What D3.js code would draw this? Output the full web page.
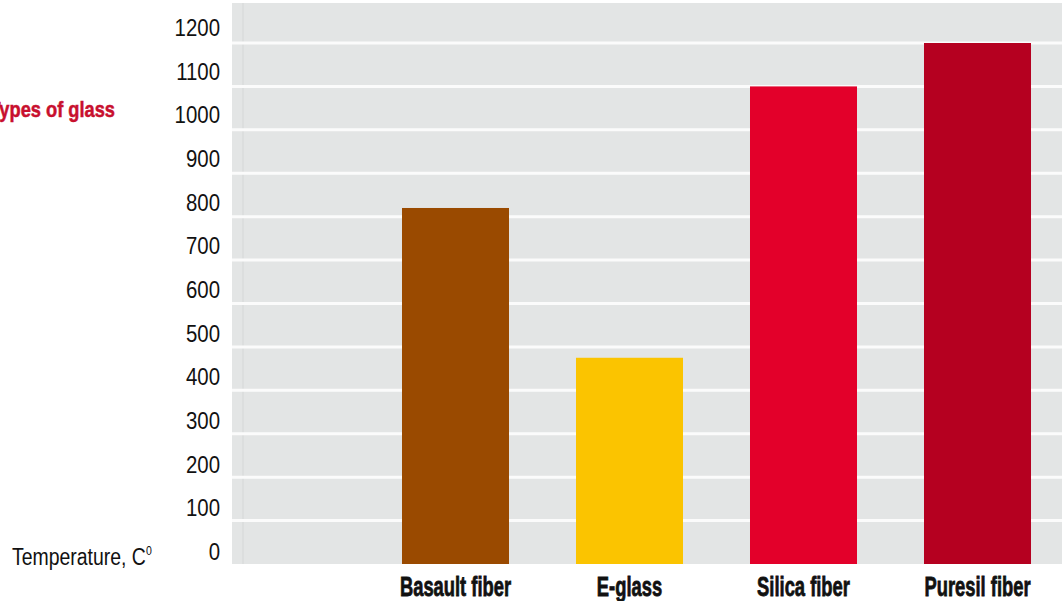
<!DOCTYPE html>
<meta charset="utf-8">
<style>
	body { margin: 0; background: #fff; }
	svg { display: block; }
	.tick-label { font-family: "Liberation Sans", Arial, sans-serif; font-size: 24px; fill: #111; }
	.cat-label { font-family: "Liberation Sans", Arial, sans-serif; font-weight: bold; font-size: 27px; fill: #111; stroke: #111; stroke-width: 0.8px; }
</style>
<body>
<script src="https://d3js.org/d3.v7.min.js"></script>
<script>

// Chart data
var categories = ["Basault fiber", "E-glass", "Silica fiber", "Puresil fiber"];
var temperatures = [820, 475, 1100, 1200];
var barColors = ["#9a4a00", "#fbc400", "#e3002a", "#b50020"];
var tickValues = [0, 100, 200, 300, 400, 500, 600, 700, 800, 900, 1000, 1100, 1200];

var width = 1062, height = 601;
var plot = {left: 232, right: 1062, top: 3, bottom: 564};

var svg = d3.select("body").append("svg")
	.attr("width", width)
	.attr("height", height);

// narrow text: translate to anchor point, squeeze horizontally
function narrow(x, y, sx) {
	return "translate(" + x + "," + y + ") scale(" + sx + ",1)";
}

// Scales
var x = d3.scaleBand()
	.domain(categories)
	.range([368.5, 1064.5])
	.paddingInner(0.385)
	.paddingOuter(0.1925);

var y = d3.scaleLinear()
	.domain([0, 1200])
	.range([564, 43]);

// Grey panel
svg.append("rect")
	.attr("x", plot.left)
	.attr("y", plot.top)
	.attr("width", plot.right - plot.left)
	.attr("height", plot.bottom - plot.top)
	.attr("fill", "#e3e5e5");

// faint vertical line near left of panel
svg.append("line")
	.attr("x1", 243).attr("x2", 243)
	.attr("y1", plot.top).attr("y2", plot.bottom)
	.attr("stroke", "#dcdede")
	.attr("stroke-width", 2);

// White gridlines
svg.selectAll(".grid")
	.data(tickValues.filter(function(d) { return d > 0; }))
	.enter().append("line")
		.attr("class", "grid")
		.attr("x1", plot.left)
		.attr("x2", plot.right)
		.attr("y1", function(d) { return y(d); })
		.attr("y2", function(d) { return y(d); })
		.attr("stroke", "#fbfbfb")
		.attr("stroke-width", 3);

// Bars
svg.selectAll(".bar")
	.data(categories)
	.enter().append("rect")
		.attr("class", "bar")
		.attr("x", function(d) { return x(d); })
		.attr("width", x.bandwidth())
		.attr("y", function(d, i) { return y(temperatures[i]); })
		.attr("height", function(d, i) { return y(0) - y(temperatures[i]); })
		.attr("fill", function(d, i) { return barColors[i]; });

// Y tick labels
svg.selectAll(".tick-label")
	.data(tickValues)
	.enter().append("text")
		.attr("class", "tick-label")
		.attr("transform", function(d) { return narrow(220, y(d) - 4 - d / 1200 * 3, 0.85); })
		.attr("text-anchor", "end")
		.text(function(d) { return d; });

// Category labels
svg.selectAll(".cat-label")
	.data(categories)
	.enter().append("text")
		.attr("class", "cat-label")
		.attr("transform", function(d) { return narrow(x(d) + x.bandwidth() / 2, 596, 0.68); })
		.attr("text-anchor", "middle")
		.text(function(d) { return d; });

// Title (its first letter runs off the left edge, as in the original)
svg.append("text")
	.attr("transform", narrow(115, 117, 0.83))
	.attr("text-anchor", "end")
	.style("font-family", "\"Liberation Sans\", Arial, sans-serif")
	.style("font-weight", "bold")
	.style("font-size", "22px")
	.style("fill", "#c8102e")
	.style("stroke", "#c8102e")
	.style("stroke-width", "0.5px")
	.text("Types of glass");

// Axis title
var axisTitle = svg.append("text")
	.attr("class", "tick-label")
	.attr("transform", narrow(12, 565, 0.81));
axisTitle.append("tspan").text("Temperature, C");
axisTitle.append("tspan")
	.attr("dy", -10)
	.style("font-size", "13px")
	.text("0");

</script>
</body>
